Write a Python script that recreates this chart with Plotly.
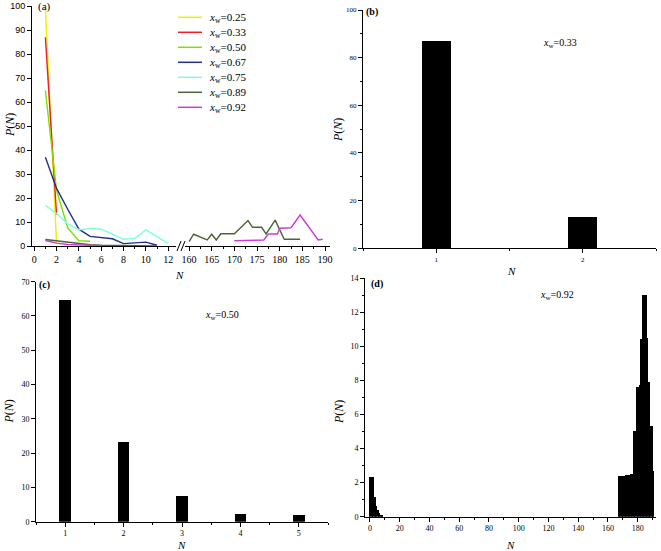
import plotly.graph_objects as go

W, H = 661, 551

# ---------------- data ----------------
series_labels = ["0.25", "0.33", "0.50", "0.67", "0.75", "0.89", "0.92"]
series_colors = ["#f0f000", "#ee1c24", "#7fe000", "#1f2f8f", "#80ffdc", "#4a6636", "#cc3ad8"]

# panel (a), small-N part
N_025 = [1, 2]
P_025 = [99, 1.2]
N_033 = [1, 2]
P_033 = [87, 13]
N_050 = [1, 2, 3, 4, 5]
P_050 = [64.8, 23.2, 7.5, 2.2, 2.0]
N_067 = [1, 2, 3, 4, 5, 6, 7, 8, 9, 10, 11]
P_067 = [37, 24, 15.3, 7, 4, 3.5, 3, 1, 1.3, 1.6, 0.3]
N_075 = [1, 2, 3, 4, 5, 6, 7, 8, 9, 10, 11, 12]
P_075 = [17, 13.5, 9.2, 6.8, 7.3, 7, 5, 2.8, 3.2, 6.7, 3.9, 1.1]
N_089_lo = [1, 2, 3, 4, 5, 6, 7, 8, 9, 10, 11]
P_089_lo = [2.7, 2.1, 1.6, 1.0, 0.5, 0.3, 0.2, 0.1, 0.1, 0.05, 0.0]
N_092_lo = [1, 2, 3, 4, 5, 6]
P_092_lo = [2.3, 1.2, 0.65, 0.4, 0.2, 0.1]

# panel (a), large-N part
N_089_hi = [160, 161, 164, 165, 166, 167, 170, 173, 174, 176, 177, 179, 181, 184.5]
P_089_hi = [1.8, 4.9, 2.5, 4.9, 2.5, 5.1, 5.1, 10.6, 7.8, 7.8, 5.0, 10.8, 2.8, 2.8]
N_092_hi = [170, 176.5, 177.5, 179.5, 180, 182.5, 184.5, 188.5, 189.5]
P_092_hi = [2.2, 2.5, 5.0, 5.0, 7.4, 7.6, 12.9, 2.5, 2.8]

# panel (b)
N_b = [1, 2]
P_b = [87, 13]

# panel (c)
N_c = [1, 2, 3, 4, 5]
P_c = [64.8, 23.2, 7.5, 2.2, 2.0]

# panel (d)
N_d = [0, 1, 2, 3, 4, 5, 6, 7, 8,
       167, 168, 169, 170, 171, 172, 173, 174, 175, 176, 177, 178,
       179, 180, 181, 182, 183, 184, 185, 186, 187, 188, 189, 190]
P_d = [2.3, 2.3, 2.3, 1.15, 0.65, 0.4, 0.2, 0.1, 0.05,
       2.4, 2.4, 2.4, 2.4, 2.4, 2.45, 2.45, 2.45, 2.5, 2.5, 5.0, 5.0,
       7.6, 7.6, 7.7, 10.4, 13.0, 13.0, 13.0, 10.5, 7.9, 5.3, 5.3, 2.7]

# ---------------- helpers ----------------
def px(x):
    return x / W


def py(y):
    return 1 - y / H


SERIF = "Liberation Serif, Times New Roman, serif"
SANS = "Liberation Sans, Arial, sans-serif"


def ax(size, family=SERIF, **kw):
    d = dict(showline=True, linecolor="black", linewidth=1, ticks="outside",
             ticklen=4, tickwidth=1, tickcolor="black", showgrid=False,
             zeroline=False, fixedrange=True, color="black",
             tickfont=dict(family=family, size=size, color="black"))
    d.update(kw)
    return d


def minor(dt):
    return dict(ticks="outside", ticklen=2, tickwidth=1, tickcolor="black", dtick=dt, showgrid=False)


fig = go.Figure()

lo = [(N_025, P_025), (N_033, P_033), (N_050, P_050), (N_067, P_067),
      (N_075, P_075), (N_089_lo, P_089_lo), (N_092_lo, P_092_lo)]
for (n, p), c in zip(lo, series_colors):
    fig.add_trace(go.Scatter(x=n, y=p, mode="lines", line=dict(color=c, width=1.4),
                             xaxis="x", yaxis="y", showlegend=False))
for (n, p), c in [((N_089_hi, P_089_hi), series_colors[5]), ((N_092_hi, P_092_hi), series_colors[6])]:
    fig.add_trace(go.Scatter(x=n, y=p, mode="lines", line=dict(color=c, width=1.4),
                             xaxis="x2", yaxis="y", showlegend=False))

fig.add_trace(go.Bar(x=N_b, y=P_b, width=0.2, marker=dict(color="black", line=dict(width=0)),
                     xaxis="x3", yaxis="y3", showlegend=False))
fig.add_trace(go.Bar(x=N_c, y=P_c, width=0.2, marker=dict(color="black", line=dict(width=0)),
                     xaxis="x4", yaxis="y4", showlegend=False))
fig.add_trace(go.Bar(x=N_d, y=P_d, width=1, offset=0, marker=dict(color="black", line=dict(width=0)),
                     xaxis="x5", yaxis="y5", showlegend=False))

layout = dict(
    width=W, height=H, margin=dict(l=0, r=0, t=0, b=0),
    paper_bgcolor="white", plot_bgcolor="white", template="none",
    font=dict(family=SERIF, size=10, color="black"),
    bargap=0,
    # panel (a)
    xaxis=ax(10, domain=[px(32), px(176)], range=[-0.2, 12.7], anchor="y",
             tick0=0, dtick=2, minor=minor(1)),
    xaxis2=ax(10, domain=[px(185), px(330)], range=[159.1, 191.1], anchor="y",
              tick0=160, dtick=5, minor=minor(2.5)),
    yaxis=ax(9, family=SANS, domain=[py(246), py(6)], range=[0, 100], anchor="x", dtick=10),
    # panel (b)
    xaxis3=ax(7, domain=[px(363), px(656)], range=[0.5, 2.5], anchor="y3",
              tickvals=[1, 2], minor=minor(0.5)),
    yaxis3=ax(7, domain=[py(248.3), py(10)], range=[0, 100], anchor="x3",
              dtick=20, minor=minor(10)),
    # panel (c)
    xaxis4=ax(8, domain=[px(36), px(328)], range=[0.5, 5.5], anchor="y4",
              dtick=1, minor=minor(0.5)),
    yaxis4=ax(8, domain=[py(521.7), py(281.7)], range=[0, 70], anchor="x4", dtick=10),
    # panel (d)
    xaxis5=ax(8, domain=[px(365), px(656)], range=[-3.3, 192.3], anchor="y5",
              tick0=0, dtick=20, minor=minor(10)),
    yaxis5=ax(8, domain=[py(516.7), py(278)], range=[0, 14], anchor="x5",
              dtick=2, minor=minor(1)),
)
fig.update_layout(**layout)

ann = []


def text(x, y, s, size=11, angle=0, xanchor="center", bold=False):
    if bold:
        s = "<b>" + s + "</b>"
    ann.append(dict(x=px(x), y=py(y), xref="paper", yref="paper", text=s, showarrow=False,
                    xanchor=xanchor, yanchor="middle", textangle=angle,
                    font=dict(family=SERIF, size=size, color="black")))


PN = "<i>P</i>(<i>N</i>)"
# axis titles
text(10, 125, PN, 12, -90)
text(179, 275, "<i>N</i>", 11)
text(338, 130, PN, 12, -90)
text(511, 271, "<i>N</i>", 11)
text(8.5, 412, PN, 12, -90)
text(181, 545, "<i>N</i>", 11)
text(339, 412, PN, 12, -90)
text(510, 545, "<i>N</i>", 11)
# panel letters
text(44, 7, "(a)", 11)
text(372, 12.5, "(b)", 10, bold=True)
text(44, 285, "(c)", 10, bold=True)
text(377, 283.5, "(d)", 10, bold=True)
# inset labels
text(559.5, 44, "<i>x</i><sub>w</sub>=0.33", 10)
text(222, 315, "<i>x</i><sub>w</sub>=0.50", 10)
text(557, 295, "<i>x</i><sub>w</sub>=0.92", 10)

shapes = []
# legend of panel (a)
for i, (lab, col) in enumerate(zip(series_labels, series_colors)):
    yy = 17.3 + 15 * i
    shapes.append(dict(type="line", xref="paper", yref="paper", x0=px(178), x1=px(202),
                       y0=py(yy), y1=py(yy), line=dict(color=col, width=1.5)))
    text(207, yy + 1, "<i>x</i><sub>w</sub>=" + lab, 11, xanchor="left")

# axis-break marks on panel (a)
for x0 in (177, 181):
    shapes.append(dict(type="line", xref="paper", yref="paper", x0=px(x0), x1=px(x0 + 4),
                       y0=py(251), y1=py(241), line=dict(color="black", width=1)))

fig.update_layout(annotations=ann, shapes=shapes)

fig.write_html("out.html", config={"displayModeBar": False})
